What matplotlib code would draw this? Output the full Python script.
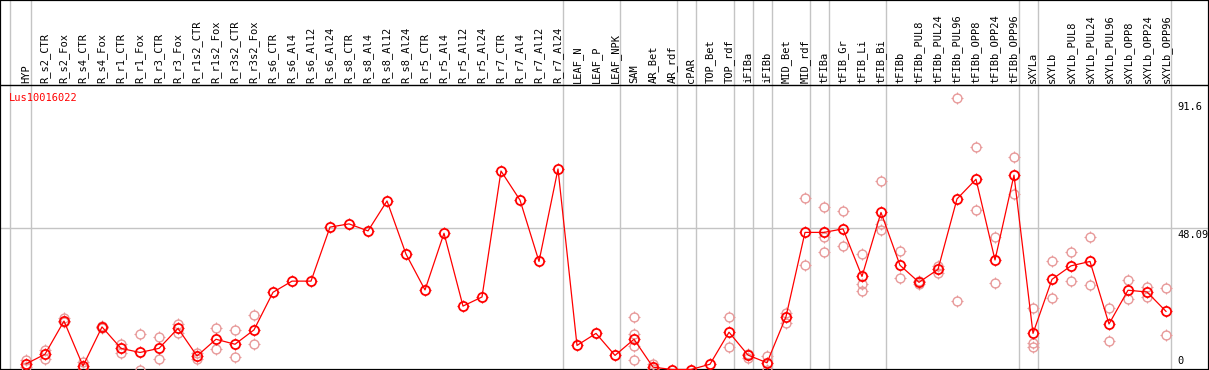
import matplotlib
matplotlib.use("Agg")
import matplotlib.pyplot as plt
from matplotlib.path import Path

# ---------------- data ----------------
gene = "Lus10016022"

samples = ["HYP",
           "R_s2_CTR", "R_s2_Fox", "R_s4_CTR", "R_s4_Fox", "R_r1_CTR", "R_r1_Fox",
           "R_r3_CTR", "R_r3_Fox", "R_r1s2_CTR", "R_r1s2_Fox", "R_r3s2_CTR", "R_r3s2_Fox",
           "R_s6_CTR", "R_s6_Al4", "R_s6_Al12", "R_s6_Al24",
           "R_s8_CTR", "R_s8_Al4", "R_s8_Al12", "R_s8_Al24",
           "R_r5_CTR", "R_r5_Al4", "R_r5_Al12", "R_r5_Al24",
           "R_r7_CTR", "R_r7_Al4", "R_r7_Al12", "R_r7_Al24",
           "LEAF_N", "LEAF_P", "LEAF_NPK",
           "SAM", "AR_Bet", "AR_rdf", "cPAR", "TOP_Bet", "TOP_rdf",
           "iFIBa", "iFIBb", "MID_Bet", "MID_rdf",
           "tFIBa", "tFIB_Gr", "tFIB_Li", "tFIB_Bi",
           "tFIBb", "tFIBb_PUL8", "tFIBb_PUL24", "tFIBb_PUL96",
           "tFIBb_OPP8", "tFIBb_OPP24", "tFIBb_OPP96",
           "sXYLa", "sXYLb", "sXYLb_PUL8", "sXYLb_PUL24", "sXYLb_PUL96",
           "sXYLb_OPP8", "sXYLb_OPP24", "sXYLb_OPP96"]

means = [1.9,
         5.2, 16.5, 1.2, 14.5, 7.2, 5.8, 7.2, 14.0, 4.6, 10.3, 8.6, 13.5,
         26.3, 30.1, 30.1, 48.5,
         49.6, 47.2, 57.4, 39.3,
         27.1, 46.4, 21.6, 24.7,
         67.6, 57.7, 36.8, 68.3,
         8.2, 12.3, 4.8,
         10.3, 0.8, 0.0, 0.0, 1.8, 12.7,
         4.9, 2.3, 18.0, 46.7,
         46.7, 47.9, 31.7, 53.5,
         35.5, 29.7, 34.1, 58.1,
         64.8, 37.3, 66.2,
         12.3, 30.7, 35.3, 36.8, 15.5,
         27.0, 26.4, 19.8]

replicates = [[3.2, 0.9],
              [6.6, 3.5], [17.6, 16.1], [2.7, 0.6], [14.8, 14.2], [8.7, 5.5], [12.0, 0.0],
              [11.0, 3.5], [15.5, 12.5], [5.7, 3.5], [14.0, 6.9], [13.3, 4.2], [18.5, 8.6],
              [], [], [], [],
              [], [], [], [],
              [], [], [], [],
              [], [], [], [],
              [], [], [],
              [17.8, 12.0, 8.1, 3.2], [1.9, 0.1], [], [], [], [17.8, 7.8],
              [5.4, 3.9], [4.6, 0.0], [19.4, 15.9], [58.4, 35.6],
              [55.3, 45.2, 39.9], [54.0, 42.0], [39.3, 29.0, 26.7], [64.2, 49.6, 47.4],
              [40.3, 31.1], [30.2, 29.2], [35.4, 33.0], [92.4, 23.3],
              [75.7, 54.2], [45.0, 29.5], [72.3, 59.8],
              [20.8, 8.9, 7.6], [36.8, 24.2], [39.9, 30.0], [45.0, 28.7], [20.8, 9.7],
              [30.4, 23.9], [28.1, 24.6], [27.7, 11.6]]

# last sample of each group (vertical separators)
group_ends = [0, 28, 31, 34, 35, 37, 38, 39, 41, 42, 45, 52, 53, 60]

y_marks = [91.6, 48.09, 0]

# ---------------- drawing ----------------
mono = "DejaVu Sans Mono"
red = "#ff0000"
pink = "#e89a9a"
grid = "#c4c4c4"

fig = plt.figure(figsize=(12.09, 3.70), dpi=100)
ax = fig.add_axes([0, 0, 1, 1])
# pixel layout: sample i sits at 26 + 19*i px, value 0 at 369.5 px, 2.936 px per unit
ax.set_xlim(-26 / 19, (1209 - 26) / 19)
ax.set_ylim(-0.5 / 2.936, 369.5 / 2.936)
ax.set_xticks([])
ax.set_yticks([])
for s in ax.spines.values():
    s.set_color("black")
    s.set_linewidth(1.6)

header_y = (370 - 85) / 370
xt = ax.get_xaxis_transform()

# grid lines
ax.axvline(-0.82, color=grid, lw=1.0, zorder=1)
for g in group_ends:
    ax.axvline(g + 0.24, color=grid, lw=1.0, zorder=1)
ax.axhline(48.09, color=grid, lw=1.0, zorder=1)
ax.plot([0, 1], [header_y, header_y], transform=ax.transAxes, color="black",
        lw=1.0, zorder=3)

# sample labels in the header
x = list(range(len(samples)))
for i, name in enumerate(samples):
    ax.text(i, header_y + 0.005, name, transform=xt, rotation=90, ha="center",
            va="bottom", family=mono, fontsize=7.5, color="black")

ax.text(-0.9, (370 - 98) / 370, gene, transform=xt, ha="left", va="center",
        family=mono, fontsize=7.5, color=red)

# four little ticks round each circle, like the original markers
stubs = Path([(0, 1.0), (0, 1.4), (0, -1.0), (0, -1.4),
              (1.0, 0), (1.4, 0), (-1.0, 0), (-1.4, 0)],
             [Path.MOVETO, Path.LINETO] * 4)

rx, ry = [], []
for i, reps in enumerate(replicates):
    for v in reps:
        rx.append(i)
        ry.append(v)
ax.plot(rx, ry, linestyle="none", marker="o", ms=6.4, mfc="none",
        mec=pink, mew=1.0, zorder=4, clip_on=False)
ax.plot(rx, ry, linestyle="none", marker=stubs, ms=9.0, mfc="none",
        mec=pink, mew=0.8, zorder=4, clip_on=False)

ax.plot(x, means, color=red, lw=0.9, zorder=5)
ax.plot(x, means, linestyle="none", marker="o", ms=6.6, mfc="none",
        mec=red, mew=1.3, zorder=6, clip_on=False)
ax.plot(x, means, linestyle="none", marker=stubs, ms=9.2, mfc="none",
        mec=red, mew=0.9, zorder=6, clip_on=False)

# value labels on the right
for v in y_marks:
    va = "bottom" if v == 0 else "top"
    off = 1.2 if v == 0 else -0.6
    ax.text(60.6, v + off, f"{v:g}", ha="left", va=va, family=mono,
            fontsize=7.5, color="black")

fig.savefig("out.png", dpi=100)
